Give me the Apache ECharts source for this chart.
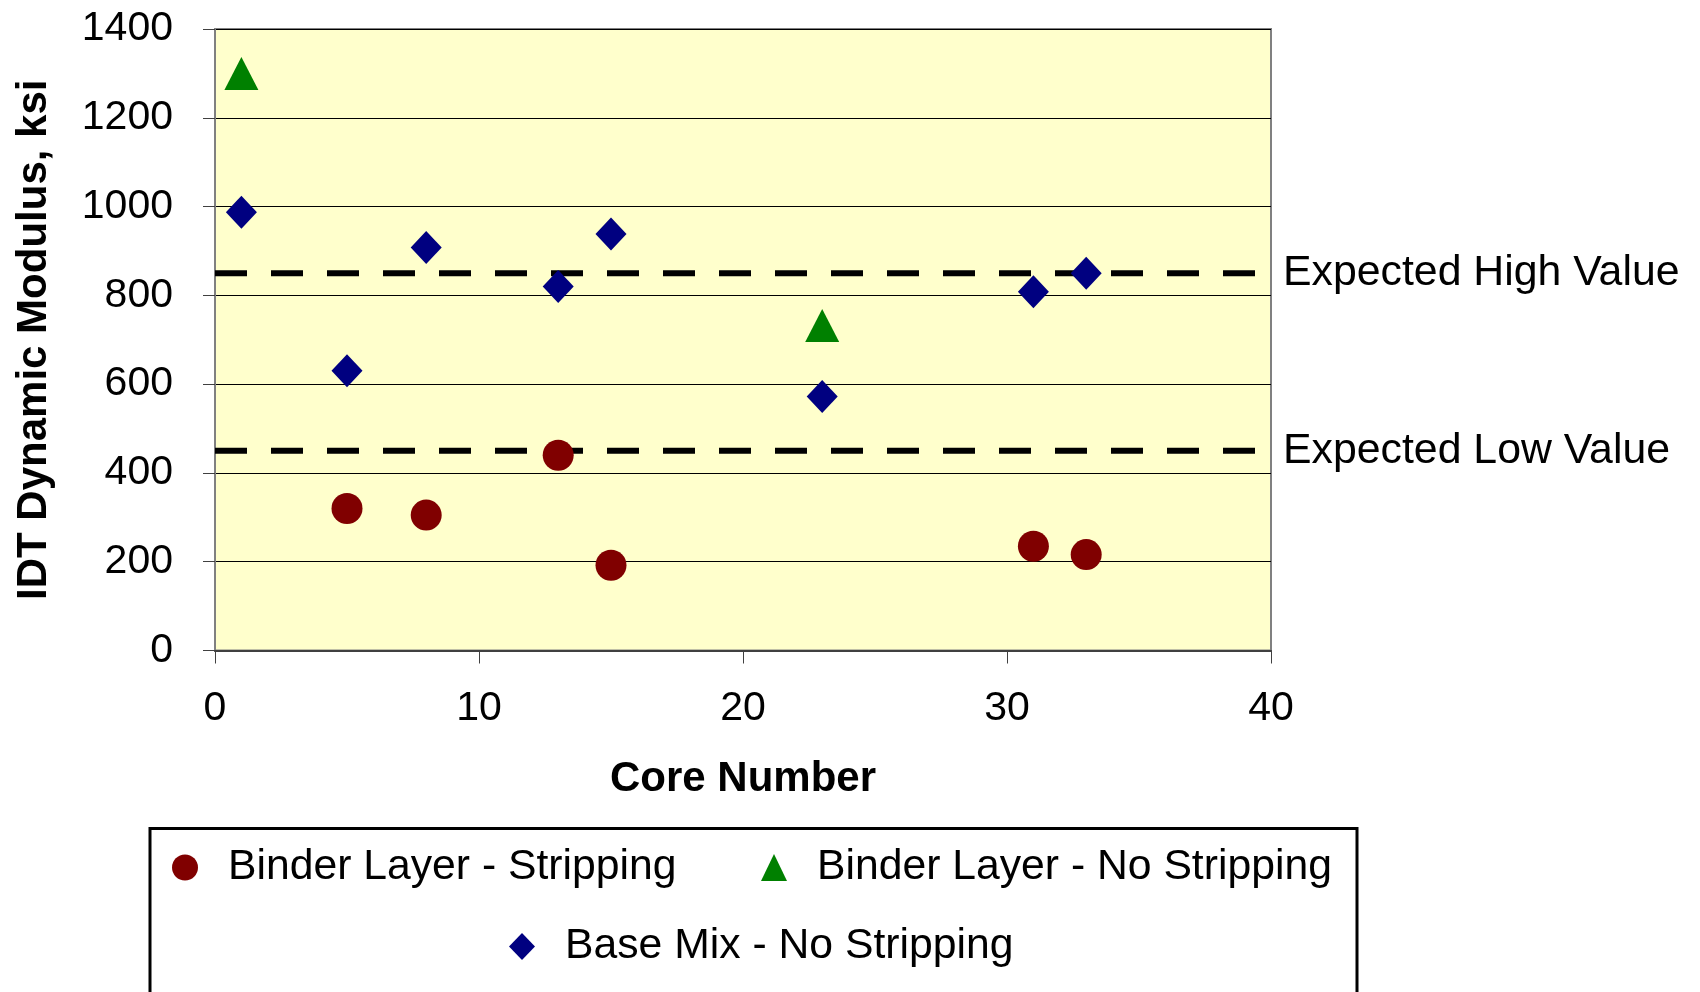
<!DOCTYPE html>
<html>
<head>
    <meta charset="utf-8">
    <title>IDT Dynamic Modulus</title>
    <script src="https://cdn.jsdelivr.net/npm/echarts@6/dist/echarts.min.js"></script>
    <style>
        html, body { margin: 0; padding: 0; background: #fff; }
        #chart { width: 1700px; height: 992px; }
    </style>
</head>
<body>
    <div id="chart"></div>
    <script type="text/javascript">
        // values
        var strippingCores = [5, 8, 13, 15, 31, 33];
        var strippingValues = [320, 305, 440, 192, 235, 216];

        var binderNoStripCores = [1, 23];
        var binderNoStripValues = [1300, 732];

        var baseMixCores = [1, 5, 8, 13, 15, 23, 31, 33];
        var baseMixValues = [987, 630, 908, 820, 938, 572, 808, 850];

        var expectedHigh = [850, 850];
        var expectedLow = [450, 450];
        var expectedCores = [0, 40];

        var xTicks = [0, 10, 20, 30, 40];
        var yTicks = [0, 200, 400, 600, 800, 1000, 1200, 1400];

        var font = "'Liberation Sans', Arial, sans-serif";

        function pairs(xs, ys) {
            var out = [];
            for (var i = 0; i < xs.length; i++) out.push([xs[i], ys[i]]);
            return out;
        }

        var chart = echarts.init(document.getElementById('chart'));

        function legendFor(name, left, top) {
            return {
                data: [name],
                left: left,
                top: top,
                padding: 0,
                itemWidth: 26,
                itemHeight: 27,
                selectedMode: false,
                textStyle: {
                    fontFamily: font,
                    fontSize: 42.7,
                    color: '#000',
                    padding: [0, 0, 0, 25]
                }
            };
        }

        function refLine(name, values) {
            return {
                name: name,
                type: 'line',
                data: pairs(expectedCores, values),
                symbol: 'none',
                silent: true,
                lineStyle: { color: '#000', width: 6, type: [32, 24] },
                endLabel: {
                    show: true,
                    formatter: name,
                    distance: 12,
                    fontFamily: font,
                    fontSize: 42.8,
                    color: '#000'
                },
                z: 1
            };
        }

        var option = {
            animation: false,
            backgroundColor: '#fff',
            grid: {
                left: 215,
                right: 429,
                top: 29,
                bottom: 341.5,
                show: true,
                backgroundColor: '#FFFFCC',
                borderColor: '#808080',
                borderWidth: 2
            },
            legend: [
                legendFor('Binder Layer - Stripping', 172, 846),
                legendFor('Binder Layer - No Stripping', 761, 846),
                legendFor('Base Mix - No Stripping', 509, 925)
            ],
            graphic: [{
                type: 'rect',
                shape: { x: 150, y: 828.5, width: 1207, height: 200 },
                style: { fill: 'none', stroke: '#000', lineWidth: 3 },
                z: 10
            }],
            xAxis: {
                type: 'value',
                min: xTicks[0],
                max: xTicks[xTicks.length - 1],
                interval: xTicks[1] - xTicks[0],
                name: 'Core Number',
                nameLocation: 'middle',
                nameGap: 108,
                nameTextStyle: { fontFamily: font, fontSize: 42, fontWeight: 'bold', color: '#000' },
                axisLine: { lineStyle: { color: '#404040', width: 2 } },
                axisTick: { show: true, inside: false, length: 13, lineStyle: { color: '#404040', width: 1 } },
                axisLabel: { fontFamily: font, fontSize: 41, color: '#000', margin: 38 },
                splitLine: { show: false }
            },
            yAxis: {
                type: 'value',
                min: yTicks[0],
                max: yTicks[yTicks.length - 1],
                interval: yTicks[1] - yTicks[0],
                name: 'IDT Dynamic Modulus, ksi',
                nameLocation: 'middle',
                nameGap: 160,
                nameTextStyle: { fontFamily: font, fontSize: 42, fontWeight: 'bold', color: '#000' },
                axisLine: { lineStyle: { color: '#808080', width: 2 } },
                axisTick: { show: true, inside: false, length: 12, lineStyle: { color: '#404040', width: 1 } },
                axisLabel: {
                    fontFamily: font, fontSize: 41, color: '#000', margin: 42,
                    formatter: function (v) { return String(v); }
                },
                splitLine: { show: true, lineStyle: { color: '#000', width: 1 } }
            },
            series: [
                refLine('Expected High Value', expectedHigh),
                refLine('Expected Low Value', expectedLow),
                {
                    name: 'Binder Layer - Stripping',
                    type: 'scatter',
                    symbol: 'circle',
                    symbolSize: [31, 31],
                    itemStyle: { color: '#800000', opacity: 1 },
                    data: pairs(strippingCores, strippingValues),
                    z: 3
                },
                {
                    name: 'Binder Layer - No Stripping',
                    type: 'scatter',
                    symbol: 'triangle',
                    symbolSize: [34, 33],
                    itemStyle: { color: '#008000', opacity: 1 },
                    data: pairs(binderNoStripCores, binderNoStripValues),
                    z: 3
                },
                {
                    name: 'Base Mix - No Stripping',
                    type: 'scatter',
                    symbol: 'diamond',
                    symbolSize: [31, 33],
                    itemStyle: { color: '#000080', opacity: 1 },
                    data: pairs(baseMixCores, baseMixValues),
                    z: 3
                }
            ]
        };

        chart.setOption(option);
    </script>
</body>
</html>
